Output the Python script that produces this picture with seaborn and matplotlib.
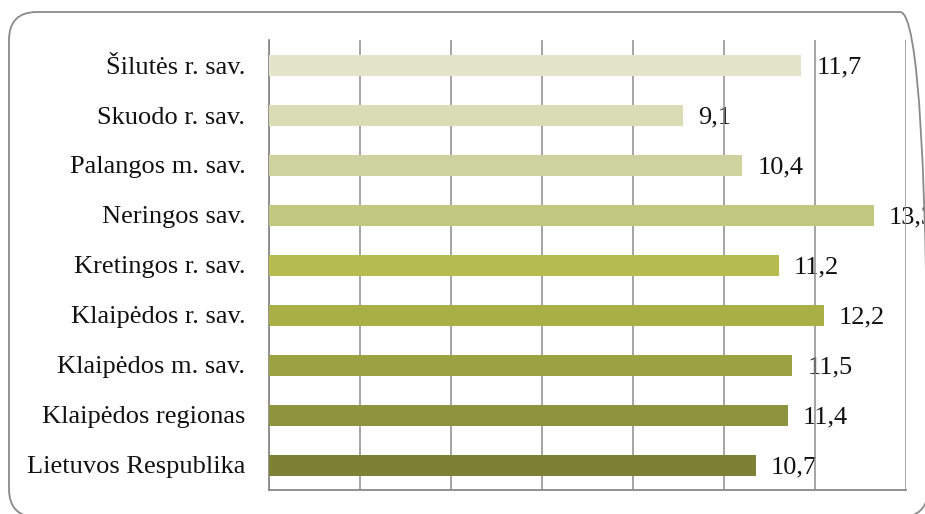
import matplotlib
matplotlib.use("Agg")
import matplotlib.pyplot as plt
from matplotlib.patches import FancyBboxPatch
import seaborn as sns
import pandas as pd

# ── Data ──────────────────────────────────────────────────────────────────────
regions = [
    "Šilutės r. sav.",
    "Skuodo r. sav.",
    "Palangos m. sav.",
    "Neringos sav.",
    "Kretingos r. sav.",
    "Klaipėdos r. sav.",
    "Klaipėdos m. sav.",
    "Klaipėdos regionas",
    "Lietuvos Respublika",
]
values = [11.7, 9.1, 10.4, 13.3, 11.2, 12.2, 11.5, 11.4, 10.7]
bar_colors = ["#E2E5CA", "#D9DCB5", "#CED29F", "#C2C87F", "#B6BC50",
              "#A9AE45", "#9CA242", "#8E943D", "#7E8133"]

df = pd.DataFrame({"region": regions, "value": values})

# ── Style ─────────────────────────────────────────────────────────────────────
sns.set_theme(style="white")
plt.rcParams["font.family"] = ["Liberation Serif", "DejaVu Serif"]

W, H = 925, 514
fig = plt.figure(figsize=(W / 100, H / 100), dpi=100)
ax = fig.add_axes([269 / W, 1 - 490 / H, (906 - 269) / W, 450 / H])

sns.barplot(data=df, y="region", x="value", hue="region", palette=bar_colors,
            legend=False, width=0.42, ax=ax, saturation=1, zorder=3,
            edgecolor="none", linewidth=0)

for i, v in enumerate(values):
    ax.text(v + 0.33, i, f"{v:.1f}".replace(".", ","), va="center_baseline",
            ha="left", fontsize=19, color="#111111", zorder=2)

ax.set_xlim(0, 14)
ax.set_ylim(len(regions) - 0.5, -0.5)
ax.set_xticks(range(0, 15, 2))
ax.set_xticklabels([])
ax.tick_params(axis="x", length=0)
ax.tick_params(axis="y", length=0, pad=17, labelsize=19, labelcolor="#111111")
ax.set_xlabel("")
ax.set_ylabel("")
ax.set_axisbelow(False)
ax.grid(axis="x", color="#8C8C8C", linewidth=1.1)
ax.grid(axis="y", visible=False)
for s in ["top", "right"]:
    ax.spines[s].set_visible(False)
ax.spines["left"].set_color("#7F7F7F")
ax.spines["bottom"].set_color("#7F7F7F")
ax.spines["left"].set_linewidth(1.2)
ax.spines["bottom"].set_linewidth(1.2)

# rounded frame around the whole chart
x0, y0, x1, y1 = 9, 12, 928, 517
frame = FancyBboxPatch((x0, H - y1), x1 - x0, y1 - y0,
                       boxstyle="round,pad=0,rounding_size=28",
                       transform=None, fill=False,
                       edgecolor="#8A8A8A", linewidth=1.3)
fig.patches.append(frame)

fig.savefig("out.png", dpi=100)
